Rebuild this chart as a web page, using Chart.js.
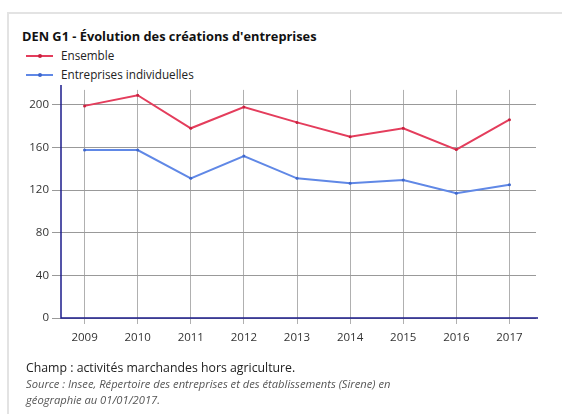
<!DOCTYPE html>
<html lang="fr">
<head>
<meta charset="utf-8">
<script src="https://cdn.jsdelivr.net/npm/chart.js@4"></script>
<style>
  html, body { margin: 0; padding: 0; background: #fff; }
  body { width: 562px; height: 414px; overflow: hidden; position: relative; font-family: 'Open Sans', sans-serif; color: #222; }
  .card { position: absolute; left: 7px; top: 12px; width: 620px; height: 460px; border-top: 2px solid #e3e3e3; border-left: 2px solid #e3e3e3; }
  .title { position: absolute; left: 22px; top: 27px; font-size: 12.8px; line-height: 18px; font-weight: bold; color: #111; white-space: nowrap; }
  .leg { position: absolute; left: 26px; font-size: 11.7px; line-height: 16px; white-space: nowrap; color: #222; }
  .leg .sw { display: inline-block; position: relative; width: 27px; height: 2px; vertical-align: middle; margin-right: 8px; top: -1px; }
  .leg .sw i { position: absolute; left: 12px; top: -1px; width: 4px; height: 4px; border-radius: 2px; }
  #chart { position: absolute; left: 0; top: 80px; }
  .notes { position: absolute; left: 26px; top: 360px; font-size: 12.3px; line-height: 16px; white-space: nowrap; }
  .notes .src { font-style: italic; color: #555; font-size: 11.2px; }
</style>
</head>
<body>
<div class="card"></div>
<div class="title">DEN G1 - Évolution des créations d'entreprises</div>
<div class="leg" style="top:47px"><span class="sw" style="background:#e43d5c"><i style="background:#c9203f"></i></span>Ensemble</div>
<div class="leg" style="top:66px"><span class="sw" style="background:#6088e6"><i style="background:#3d66cc"></i></span>Entreprises individuelles</div>
<canvas id="chart" width="562" height="280"></canvas>
<div class="notes">
  <div>Champ : activités marchandes hors agriculture.</div>
  <div class="src">Source : Insee, Répertoire des entreprises et des établissements (Sirene) en<br>géographie au 01/01/2017.</div>
</div>
<script>
const years = ['2009', '2010', '2011', '2012', '2013', '2014', '2015', '2016', '2017']
const ensemble = [199, 209, 178, 198, 183.5, 170, 178, 158, 186]
const individuelles = [157.5, 157.5, 131, 152, 131, 126.5, 129.5, 117, 125]

// axes drawn a bit past the plot, like the original
const axisLines = {
  id: 'axisLines',
  afterDraw(chart) {
    const { ctx, chartArea: a } = chart
    ctx.save()
    ctx.strokeStyle = '#1c1c8c'
    ctx.lineWidth = 1.5
    ctx.beginPath()
    ctx.moveTo(a.left + 3, a.top - 5)
    ctx.lineTo(a.left + 3, a.bottom)
    ctx.lineTo(a.right + 2, a.bottom)
    ctx.stroke()
    ctx.restore()
  },
}

const tickFont = { family: 'Open Sans', size: 11.5 }

new Chart(document.getElementById('chart'), {
  type: 'line',
  plugins: [axisLines],
  data: {
    labels: years,
    datasets: [
      {
        label: 'Ensemble',
        data: ensemble,
        borderColor: '#e43d5c',
        backgroundColor: '#c9203f',
        borderWidth: 2,
        pointRadius: 1.5,
        pointBorderWidth: 0,
        tension: 0,
      },
      {
        label: 'Entreprises individuelles',
        data: individuelles,
        borderColor: '#6088e6',
        backgroundColor: '#3d66cc',
        borderWidth: 2,
        pointRadius: 1.5,
        pointBorderWidth: 0,
        tension: 0,
      },
    ],
  },
  options: {
    responsive: false,
    animation: false,
    layout: { padding: { top: 9, right: 26, bottom: 0, left: 0 } },
    plugins: {
      legend: { display: false },
      tooltip: { enabled: false },
    },
    scales: {
      x: {
        offset: true,
        grid: { color: '#b0b0b0', tickLength: 6 },
        border: { display: false },
        ticks: { color: '#333', font: tickFont, padding: 7, maxRotation: 0 },
        afterFit(s) { s.height = 42 },
      },
      y: {
        min: 0,
        max: 214,
        grid: { color: '#999', tickLength: 6 },
        border: { display: false },
        ticks: { stepSize: 40, includeBounds: false, color: '#333', font: tickFont, padding: 3 },
        afterFit(s) { s.width = 58 },
      },
    },
  },
})
</script>
</body>
</html>
